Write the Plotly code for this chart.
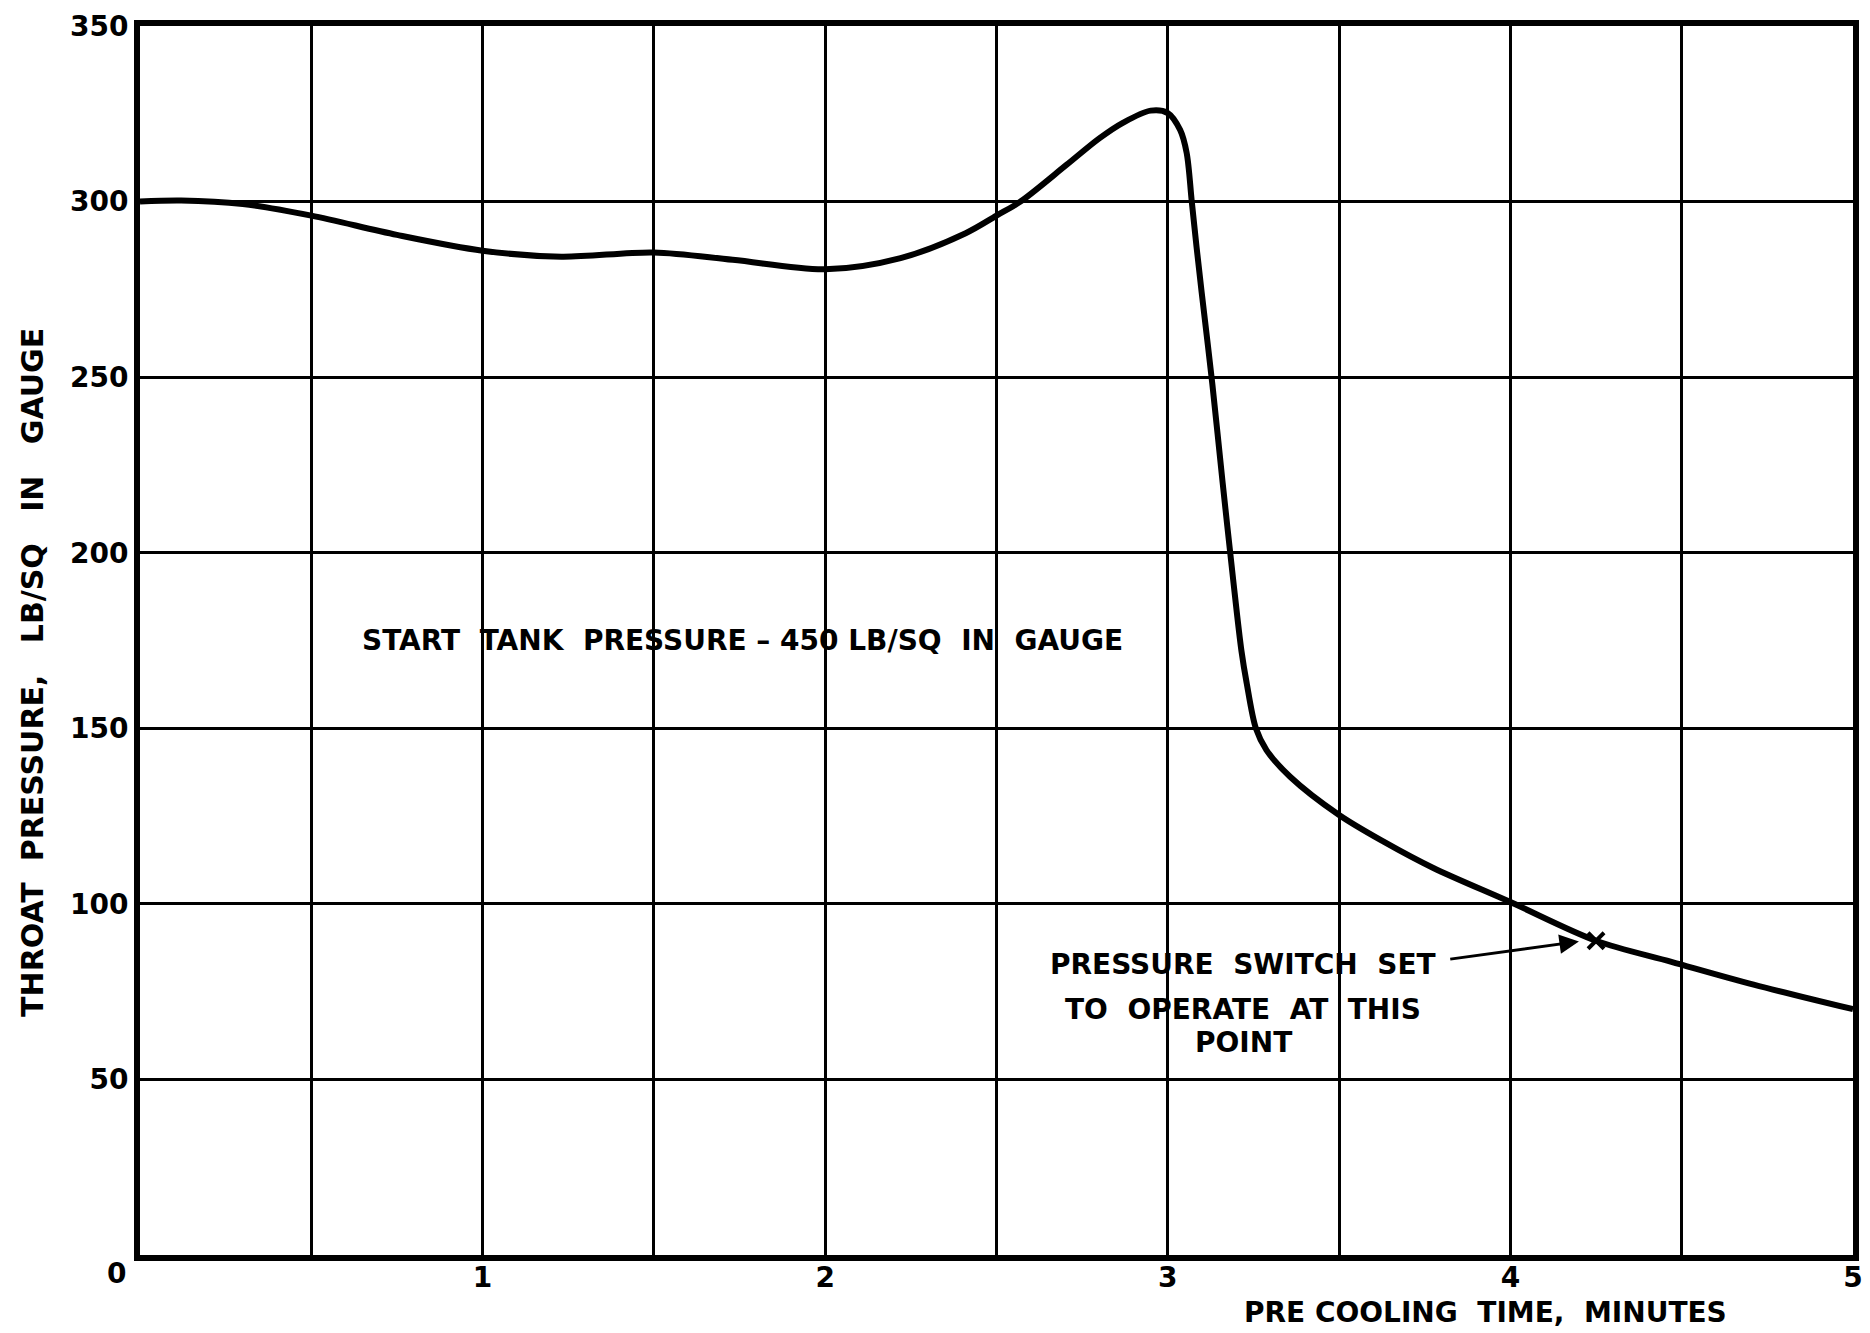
import plotly.graph_objects as go

# Data
time_min = [0, 0.12, 0.3, 0.5, 0.75, 1.0, 1.23, 1.5, 1.73, 2.0, 2.22, 2.41, 2.5, 2.57, 2.705,
            2.80, 2.87, 2.95, 3.0, 3.036, 3.055, 3.07, 3.084, 3.099, 3.13, 3.16, 3.19, 3.215,
            3.23, 3.257, 3.288, 3.357, 3.5, 3.63, 3.775, 4.0, 4.25, 4.47, 4.71, 5.0]
pressure = [300, 300.3, 299.3, 296, 290.5, 286, 284.3, 285.5, 283.4, 280.7, 283.9, 291, 296, 300, 310.5,
            318, 322.5, 325.9, 325.2, 320.4, 313.9, 300, 287, 274, 248, 220, 193, 172,
            163, 150, 143.8, 136.2, 125.3, 117.7, 110.2, 100.5, 89.5, 83.5, 77, 70]
switch_point_x = [4.25]
switch_point_y = [89.5]
x_ticks = [1, 2, 3, 4, 5]
y_ticks = [50, 100, 150, 200, 250, 300, 350]

FONT = "DejaVu Sans"
fig = go.Figure()
fig.add_trace(go.Scatter(x=time_min, y=pressure, mode="lines",
                         line=dict(color="black", width=6, shape="spline", smoothing=0.9),
                         hoverinfo="skip", showlegend=False))
fig.add_trace(go.Scatter(x=switch_point_x, y=switch_point_y, mode="markers",
                         marker=dict(symbol="x-thin", size=16, line=dict(color="black", width=4)),
                         hoverinfo="skip", showlegend=False))

tf = dict(family=FONT, size=28, color="black", weight="bold")
anns = [
    dict(x=1.76, y=175, xref="x", yref="y", text="START  TANK  PRESSURE – 450 LB/SQ  IN  GAUGE",
         showarrow=False, font=tf, xanchor="center", yanchor="middle"),
    dict(x=3.22, y=82.8, xref="x", yref="y", text="PRESSURE  SWITCH  SET", showarrow=False,
         font=tf, xanchor="center", yanchor="middle"),
    dict(x=3.22, y=69.9, xref="x", yref="y", text="TO  OPERATE  AT  THIS", showarrow=False,
         font=tf, xanchor="center", yanchor="middle"),
    dict(x=3.22, y=60.4, xref="x", yref="y", text="POINT", showarrow=False,
         font=tf, xanchor="center", yanchor="middle"),
    dict(x=4.2, y=89.3, xref="x", yref="y", ax=3.82, ay=84.2, axref="x", ayref="y", text="",
         showarrow=True, arrowhead=2, arrowsize=1.3, arrowwidth=3, arrowcolor="black"),
    dict(x=0, y=0, xref="x", yref="y", text="0", showarrow=False, xshift=-24, yshift=-18,
         xanchor="center", yanchor="middle",
         font=dict(family=FONT, size=28, color="black", weight="bold")),
    dict(x=0, y=0.4736, xref="paper", yref="paper",
         text="THROAT  PRESSURE,   LB/SQ   IN   GAUGE",
         textangle=-90, showarrow=False, xshift=-107, xanchor="center", yanchor="middle",
         font=dict(family=FONT, size=30, color="black", weight="bold")),
    dict(x=3.926, y=0, xref="x", yref="paper", text="PRE COOLING  TIME,  MINUTES",
         showarrow=False, yshift=-57, xanchor="center", yanchor="middle", font=tf),
]

fig.update_layout(
    width=1870, height=1333,
    margin=dict(l=140, r=17, t=26, b=78),
    plot_bgcolor="white", paper_bgcolor="white",
    annotations=anns,
    xaxis=dict(range=[0, 5], tickvals=x_ticks, ticktext=[str(v) for v in x_ticks],
               showgrid=True, gridcolor="black", gridwidth=2.5,
               minor=dict(dtick=0.5, showgrid=True, gridcolor="black", gridwidth=2.5),
               showline=True, linecolor="black", linewidth=6, mirror=True,
               zeroline=False, ticks="", automargin=False, ticklabelstandoff=-8,
               ticklabeloverflow="allow",
               tickfont=dict(family=FONT, size=28, color="black", weight="bold")),
    yaxis=dict(range=[0, 350], tickvals=y_ticks,
               showgrid=True, gridcolor="black", gridwidth=2.5,
               showline=True, linecolor="black", linewidth=6, mirror=True,
               zeroline=False, ticks="", automargin=False, ticklabeloverflow="allow",
               tickfont=dict(family=FONT, size=28, color="black", weight="bold")),
)

fig.write_html("out.html", config={"displayModeBar": False},
               post_script="document.body.style.margin='0';document.body.style.overflow='hidden';")
